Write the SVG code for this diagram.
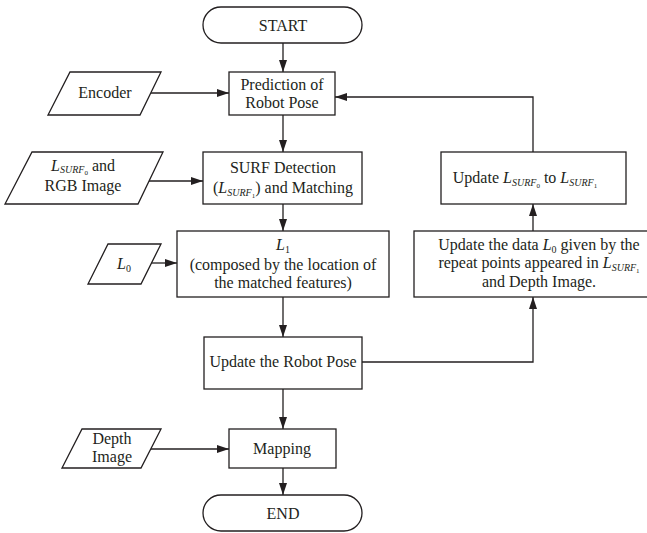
<svg xmlns="http://www.w3.org/2000/svg" width="647" height="533" viewBox="0 0 647 533">
<style>
  .shape { fill: #ffffff; stroke: #231f20; stroke-width: 1.3; }
  .t { font-size: 16px; fill: #231f20; text-anchor: middle; }
  .it { font-style: italic; }
  .conn { fill: none; stroke: #231f20; stroke-width: 1.3; }
</style>
<defs>
  <marker id="arrow" markerUnits="userSpaceOnUse" markerWidth="12" markerHeight="8" refX="12" refY="4" orient="auto">
    <path d="M0,0 L12,4 L0,8 z" fill="#231f20"/>
  </marker>
</defs>
<rect width="647" height="533" fill="#ffffff"/>

<g id="connectors">
  <line class="conn" x1="283" y1="43" x2="283" y2="72" marker-end="url(#arrow)"/>
  <line class="conn" x1="151" y1="93" x2="229" y2="93" marker-end="url(#arrow)"/>
  <line class="conn" x1="283" y1="115" x2="283" y2="152" marker-end="url(#arrow)"/>
  <line class="conn" x1="149" y1="181" x2="203" y2="181" marker-end="url(#arrow)"/>
  <line class="conn" x1="283" y1="204" x2="283" y2="231" marker-end="url(#arrow)"/>
  <line class="conn" x1="151" y1="263" x2="177" y2="263" marker-end="url(#arrow)"/>
  <line class="conn" x1="283" y1="297" x2="283" y2="337" marker-end="url(#arrow)"/>
  <line class="conn" x1="283" y1="389" x2="283" y2="429" marker-end="url(#arrow)"/>
  <line class="conn" x1="151" y1="449" x2="229" y2="449" marker-end="url(#arrow)"/>
  <line class="conn" x1="283" y1="468" x2="283" y2="495" marker-end="url(#arrow)"/>
  <polyline class="conn" points="362,362 533,362 533,297" marker-end="url(#arrow)"/>
  <line class="conn" x1="533" y1="231" x2="533" y2="204" marker-end="url(#arrow)"/>
  <polyline class="conn" points="533,152 533,97 335,97" marker-end="url(#arrow)"/>
</g>

<g font-family="'Liberation Serif', 'DejaVu Serif', serif">
<g id="start">
  <rect class="shape" x="203" y="7" width="159" height="36" rx="18" ry="18"/>
  <text class="t" x="283" y="31">START</text>
</g>

<g id="prediction">
  <rect class="shape" x="229" y="72" width="106" height="43"/>
  <text class="t" x="282" y="90">Prediction of</text>
  <text class="t" x="282" y="108">Robot Pose</text>
</g>

<g id="encoder">
  <polygon class="shape" points="70,72 161,72 140,115 48,115"/>
  <text class="t" x="105" y="98">Encoder</text>
</g>

<g id="surf">
  <rect class="shape" x="203" y="152" width="159" height="52"/>
  <text class="t" x="283" y="173">SURF Detection</text>
  <text class="t" x="283" y="193">(<tspan class="it">L</tspan><tspan class="it" font-size="10" dy="3">SURF</tspan><tspan font-size="7" dy="2">1</tspan><tspan dy="-5">) and Matching</tspan></text>
</g>

<g id="lsurf0">
  <polygon class="shape" points="32,152 163,152 138,204 5,204"/>
  <text class="t" x="83" y="171"><tspan class="it">L</tspan><tspan class="it" font-size="10" dy="2">SURF</tspan><tspan font-size="7" dy="2">0</tspan><tspan dy="-4"> and</tspan></text>
  <text class="t" x="83" y="191">RGB Image</text>
</g>

<g id="l1">
  <rect class="shape" x="177" y="231" width="212" height="66"/>
  <text class="t" x="283" y="250"><tspan class="it">L</tspan><tspan font-size="10" dy="3">1</tspan></text>
  <text class="t" x="283" y="270">(composed by the location of</text>
  <text class="t" x="283" y="288">the matched features)</text>
</g>

<g id="l0">
  <polygon class="shape" points="108,244 161,244 141,284 88,284"/>
  <text class="t" x="124" y="269"><tspan class="it">L</tspan><tspan font-size="10" dy="3">0</tspan></text>
</g>

<g id="update-pose">
  <rect class="shape" x="204" y="337" width="158" height="52"/>
  <text class="t" x="283" y="367">Update the Robot Pose</text>
</g>

<g id="mapping">
  <rect class="shape" x="229" y="429" width="107" height="39"/>
  <text class="t" x="282" y="454">Mapping</text>
</g>

<g id="depth">
  <polygon class="shape" points="82,429 161,429 141,468 62,468"/>
  <text class="t" x="112" y="444">Depth</text>
  <text class="t" x="112" y="462">Image</text>
</g>

<g id="end">
  <rect class="shape" x="203" y="495" width="159" height="36" rx="18" ry="18"/>
  <text class="t" x="283" y="519">END</text>
</g>

<g id="update-lsurf">
  <rect class="shape" x="441" y="152" width="185" height="52"/>
  <text class="t" x="525" y="183">Update <tspan class="it">L</tspan><tspan class="it" font-size="10" dy="3">SURF</tspan><tspan font-size="7" dy="2">0</tspan><tspan dy="-5"> to </tspan><tspan class="it">L</tspan><tspan class="it" font-size="10" dy="3">SURF</tspan><tspan font-size="7" dy="2">1</tspan></text>
</g>

<g id="update-data">
  <rect class="shape" x="414" y="231" width="250" height="66"/>
  <text class="t" x="539" y="250">Update the data <tspan class="it">L</tspan><tspan font-size="10" dy="3">0</tspan><tspan dy="-3"> given by the</tspan></text>
  <text class="t" x="539" y="268">repeat points appeared in <tspan class="it">L</tspan><tspan class="it" font-size="10" dy="3">SURF</tspan><tspan font-size="7" dy="2">1</tspan></text>
  <text class="t" x="539" y="287">and Depth Image.</text>
</g>
</g>
</svg>
